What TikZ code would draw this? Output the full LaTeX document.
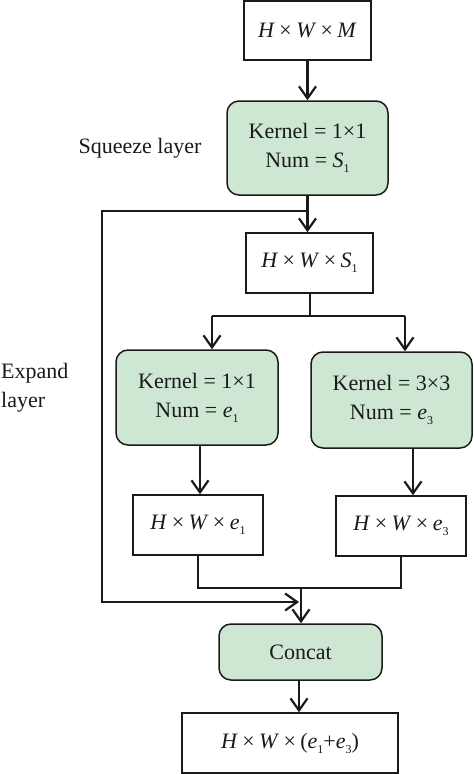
\documentclass[tikz,border=0pt]{standalone}
\usepackage{fontspec}
\setmainfont{Liberation Serif}
\usetikzlibrary{arrows.meta}
\definecolor{boxgreen}{HTML}{CEE7D2}
\definecolor{ink}{HTML}{1A1A1A}
\newcommand{\tms}{\hspace{0.2em}×\hspace{0.2em}}
\newcommand{\sbs}[1]{\raisebox{-0.5ex}{\fontsize{12}{12}\selectfont #1}}
\tikzset{
  plain/.style={draw=ink, line width=1.5pt, fill=white, inner sep=0pt, text=ink,
    font=\fontsize{22}{29}\selectfont, align=center},
  layerbox/.style={plain, fill=boxgreen, rounded corners=12pt},
  conn/.style={draw=ink, line width=1.4pt},
  arr/.style={draw=ink, line width=2.2pt, -{Straight Barb[length=12pt,width=17pt,line width=2.2pt]}},
  lbl/.style={text=ink, font=\fontsize{22}{29}\selectfont, inner sep=0pt}
}
\begin{document}
\begin{tikzpicture}[x=1pt,y=-1pt]
\useasboundingbox (0,0) rectangle (474,774);
\clip (0,0) rectangle (474,774);
% nodes
\node[plain, minimum width=127pt, minimum height=59pt] (top) at (307.5,30.5) {\textit{H}\tms\textit{W}\tms\textit{M}};
\node[layerbox, minimum width=161pt, minimum height=94pt] (sq) at (307.5,148) {Kernel = 1×1\\Num = \textit{S}\sbs{1}};
\node[plain, minimum width=127pt, minimum height=60pt] (s1) at (309.5,263) {\textit{H}\tms\textit{W}\tms\textit{S}\sbs{1}};
\node[layerbox, minimum width=162pt, minimum height=95pt] (k1) at (197,397.5) {Kernel = 1×1\\Num = \textit{e}\sbs{1}};
\node[layerbox, minimum width=161pt, minimum height=96pt] (k3) at (391.5,400) {Kernel = 3×3\\Num = \textit{e}\sbs{3}};
\node[plain, minimum width=130pt, minimum height=60pt] (o1) at (198,525) {\textit{H}\tms\textit{W}\tms\textit{e}\sbs{1}};
\node[plain, minimum width=130pt, minimum height=60pt] (o3) at (401,526) {\textit{H}\tms\textit{W}\tms\textit{e}\sbs{3}};
\node[layerbox, minimum width=163pt, minimum height=56pt] (cc) at (300.5,652) {Concat};
\node[plain, minimum width=216pt, minimum height=60pt] (out) at (290,743) {\textit{H}\tms\textit{W}\tms(\textit{e}\sbs{1}+\textit{e}\sbs{3})};
% labels
\node[lbl, anchor=center] (sql) at (140,148) {Squeeze layer};
\node[lbl, anchor=west, align=left] (exl) at (1,388) {Expand\\layer};
% coordinates
\coordinate (skipA) at (308,211);
\coordinate (skipB) at (102,211);
\coordinate (skipC) at (102,602);
\coordinate (skipD) at (299,602);
\coordinate (br) at (310,316);
\coordinate (brL) at (212,316);
\coordinate (brR) at (405,316);
\coordinate (mg) at (301,588);
% connectors
\draw[arr] (top.south) -- (top.south |- sq.north);
\draw[arr] (sq.south) -- (sq.south |- s1.north);
\draw[conn] (skipA) -- (skipB) -- (skipC) -- ++(20,0);
\draw[arr, line width=1.6pt] (skipC) -- (skipD);
\draw[conn, line width=1.8pt] (s1.south -| br) -- (br);
\draw[conn, line width=1.8pt] (brL) -- (brR);
\draw[arr] (brL) -- (brL |- k1.north);
\draw[arr] (brR) -- (brR |- k3.north);
\draw[arr] (k1.south -| 200,0) -- (200,0 |- o1.north);
\draw[arr] (k3.south -| 413,0) -- (413,0 |- o3.north);
\draw[conn] (o1.south -| 198,0) -- (198,0 |- mg) -- (401,0 |- mg) -- (o3.south -| 401,0);
\draw[arr] (mg) -- (mg |- cc.north);
\draw[arr] (cc.south -| 299,0) -- (299,0 |- out.north);
\end{tikzpicture}
\end{document}
